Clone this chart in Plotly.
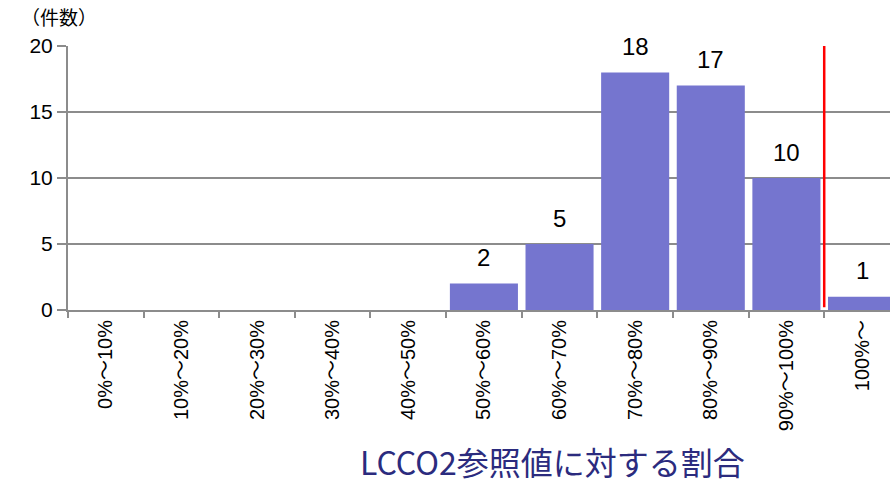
import plotly.graph_objects as go

categories = ["0%～10%", "10%～20%", "20%～30%", "30%～40%", "40%～50%",
              "50%～60%", "60%～70%", "70%～80%", "80%～90%", "90%～100%", "100%～"]
counts = [0, 0, 0, 0, 0, 2, 5, 18, 17, 10, 1]
y_ticks = [0, 5, 10, 15, 20]

BAR = "#7575cf"
GRID = "#8c8c8c"
FONT = "Liberation Sans, Arial, Noto Sans CJK JP, sans-serif"

fig = go.Figure()
fig.add_trace(go.Bar(
    x=categories, y=counts,
    width=0.9,
    marker=dict(color=BAR, line=dict(width=0)),
    hoverinfo="skip",
))

# value labels above non-empty bars
for cat, v in zip(categories, counts):
    if v > 0:
        fig.add_annotation(x=cat, y=v, text=str(v), showarrow=False,
                           yanchor="middle", yshift=26,
                           font=dict(size=24, color="#000000", family=FONT))

# reference line at 100%
fig.add_shape(type="line", x0=9.5, x1=9.5, y0=0.2, y1=20, xref="x", yref="y",
              line=dict(color="#ff0000", width=2.5))

fig.add_annotation(x=-0.06, y=1.0, xref="paper", yref="paper", text="（件数）",
                   showarrow=False, xanchor="left", yanchor="bottom", yshift=14,
                   font=dict(size=19, color="#000000", family="Noto Sans CJK JP"))

fig.add_annotation(x=0.589, y=0, xref="paper", yref="paper",
                   text="LCCO2参照値に対する割合", showarrow=False,
                   xanchor="center", yanchor="middle", yshift=-151,
                   font=dict(size=32, color="#2b2b7e", family="Noto Sans CJK JP"))

fig.update_layout(
    width=890, height=485,
    margin=dict(l=68, r=0, t=46, b=175),
    paper_bgcolor="white", plot_bgcolor="white",
    showlegend=False,
    xaxis=dict(
        type="category", categoryorder="array", categoryarray=categories,
        range=[-0.5, 10.37], tickangle=-90,
        tickson="boundaries",
        showgrid=False, zeroline=False,
        showline=True, linecolor=GRID, linewidth=2,
        ticks="outside", ticklen=6, tickcolor=GRID, tickwidth=2,
        tickfont=dict(size=20, color="#000000", family=FONT),
        fixedrange=True,
    ),
    yaxis=dict(
        range=[0, 20], tickvals=y_ticks,
        showgrid=True, gridcolor=GRID, gridwidth=1.5,
        zeroline=False,
        showline=True, linecolor=GRID, linewidth=2,
        ticks="outside", ticklen=9, tickcolor=GRID, tickwidth=1.5,
        tickfont=dict(size=21, color="#000000", family=FONT),
        fixedrange=True,
    ),
)

fig.write_html("out.html")
